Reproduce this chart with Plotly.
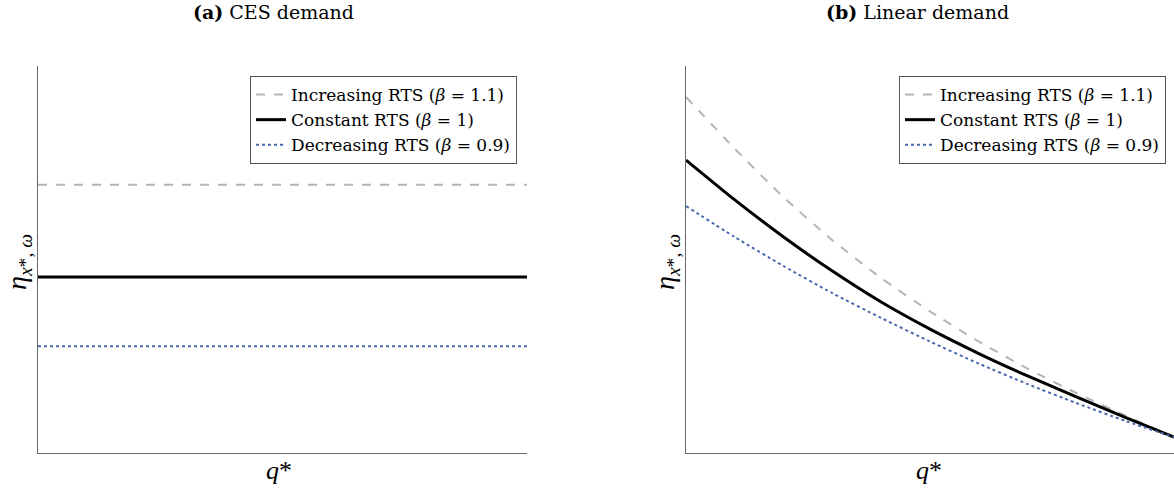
import plotly.graph_objects as go

# ---- data ----
series_names = [
    "Increasing RTS (<i>β</i> = 1.1)",
    "Constant RTS (<i>β</i> = 1)",
    "Decreasing RTS (<i>β</i> = 0.9)",
]
# Panel (a): CES demand - constant elasticity (normalized units)
ces_q = [0.0, 1.0]
ces_increasing = [0.693, 0.693]
ces_constant = [0.455, 0.455]
ces_decreasing = [0.276, 0.276]

# Panel (b): Linear demand (normalized units)
lin_q = [0.0, 0.1, 0.2, 0.3, 0.4, 0.5, 0.6, 0.7, 0.8, 0.9, 1.0]
lin_increasing = [0.920, 0.786, 0.661, 0.550, 0.452, 0.366, 0.288, 0.218, 0.155, 0.097, 0.041]
lin_constant = [0.757, 0.654, 0.558, 0.470, 0.390, 0.320, 0.257, 0.199, 0.145, 0.092, 0.041]
lin_decreasing = [0.638, 0.558, 0.483, 0.413, 0.349, 0.288, 0.231, 0.178, 0.129, 0.083, 0.041]

titles = ["<b>(a)</b> CES demand", "<b>(b)</b> Linear demand"]

styles = [
    dict(color="#b5b5b5", width=2, dash="dash"),
    dict(color="#000000", width=3, dash="solid"),
    dict(color="#4a68ad", width=2, dash="dot"),
]

FONT = "DejaVu Serif"
fig = go.Figure()

for i, (name, ys) in enumerate(zip(series_names, [ces_increasing, ces_constant, ces_decreasing])):
    fig.add_trace(go.Scatter(x=ces_q, y=ys, mode="lines", name=name, line=styles[i],
                             xaxis="x", yaxis="y", legend="legend"))
for i, (name, ys) in enumerate(zip(series_names, [lin_increasing, lin_constant, lin_decreasing])):
    fig.add_trace(go.Scatter(x=lin_q, y=ys, mode="lines", name=name,
                             line=dict(**styles[i], shape="spline", smoothing=0.6),
                             xaxis="x2", yaxis="y2", legend="legend2"))

W, H = 1174, 494
ydom = [1 - 453 / H, 1 - 66 / H]
axis_common = dict(range=[0, 1], showgrid=False, zeroline=False, showticklabels=False,
                   ticks="", showline=True, linecolor="#666666", linewidth=1)

legend_common = dict(font=dict(family=FONT, size=17, color="#000"), bgcolor="white",
                     bordercolor="#555555", borderwidth=1, xanchor="right", yanchor="top",
                     tracegroupgap=0, itemwidth=30)

fig.update_layout(
    width=W, height=H,
    margin=dict(l=0, r=0, t=0, b=0),
    plot_bgcolor="white", paper_bgcolor="white",
    xaxis=dict(domain=[38 / W, 527 / W], anchor="y", **axis_common),
    yaxis=dict(domain=ydom, anchor="x", **axis_common),
    xaxis2=dict(domain=[686 / W, 1.0], anchor="y2", **axis_common),
    yaxis2=dict(domain=ydom, anchor="x2", **axis_common),
    legend=dict(x=517 / W, y=1 - 76 / H, **legend_common),
    legend2=dict(x=1166 / W, y=1 - 76 / H, **legend_common),
    showlegend=True,
)

annotations = [
    dict(text=titles[0], x=273 / W, y=1 - 12 / H, xref="paper", yref="paper",
         showarrow=False, font=dict(family=FONT, size=19, color="#000"),
         xanchor="center", yanchor="middle"),
    dict(text=titles[1], x=917 / W, y=1 - 12 / H, xref="paper", yref="paper",
         showarrow=False, font=dict(family=FONT, size=19, color="#000"),
         xanchor="center", yanchor="middle"),
    dict(text="<i>q</i>*", x=279 / W, y=1 - 470 / H, xref="paper", yref="paper",
         showarrow=False, font=dict(family="Liberation Serif", size=26, color="#000"),
         xanchor="center", yanchor="middle"),
    dict(text="<i>q</i>*", x=929 / W, y=1 - 470 / H, xref="paper", yref="paper",
         showarrow=False, font=dict(family="Liberation Serif", size=26, color="#000"),
         xanchor="center", yanchor="middle"),
    dict(text="<i>η</i><sub><i>x</i>*, <i>ω</i></sub>", x=18 / W, y=1 - 262 / H,
         xref="paper", yref="paper", showarrow=False, textangle=-90,
         font=dict(family="Liberation Serif", size=28, color="#000"),
         xanchor="center", yanchor="middle"),
    dict(text="<i>η</i><sub><i>x</i>*, <i>ω</i></sub>", x=666 / W, y=1 - 262 / H,
         xref="paper", yref="paper", showarrow=False, textangle=-90,
         font=dict(family="Liberation Serif", size=28, color="#000"),
         xanchor="center", yanchor="middle"),
]
fig.update_layout(annotations=annotations)

fig.write_html("out.html")
